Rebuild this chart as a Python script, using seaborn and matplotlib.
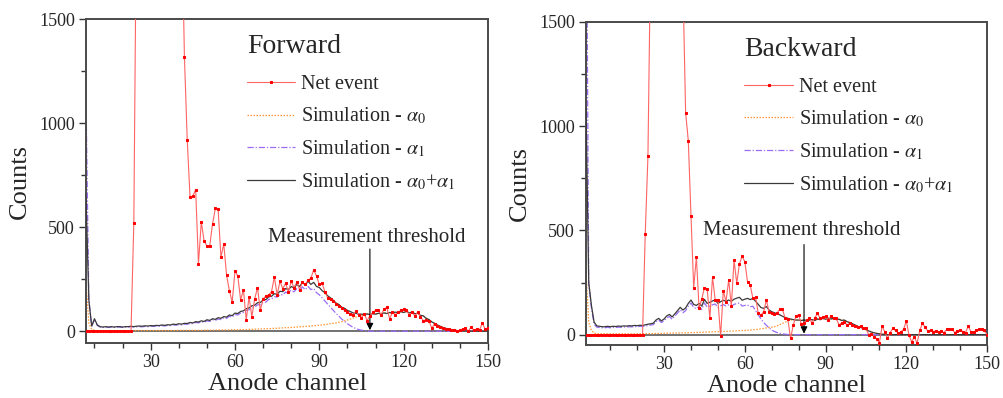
import numpy as np
import pandas as pd
import matplotlib
matplotlib.use("Agg")
import matplotlib.pyplot as plt
import seaborn as sns
from matplotlib.ticker import MultipleLocator, FixedLocator

# ---------------- data ----------------
ch_fwd = np.arange(7, 151)
net_fwd = ([0, 0, 0, 0, 0, 0, 0, 0, 0, 0]
           + [0, 0, 0, 0, 0, 0, 0, 520, 2150, 5000]
           + [8000, 10000, 12000, 13000, 12500, 11000, 9500, 8000, 6500, 5000]
           + [4000, 3200, 2600, 2200, 2040, 1320, 920, 645, 650, 680]
           + [325, 525, 435, 410, 410, 515, 590, 585, 355, 420]
           + [270, 195, 140, 290, 265, 150, 200, 55, 165, 70]
           + [155, 210, 100, 155, 170, 175, 190, 260, 175, 240]
           + [205, 230, 190, 240, 210, 235, 200, 235, 225, 245]
           + [255, 295, 265, 225, 230, 190, 160, 155, 145, 130]
           + [120, 110, 100, 90, 85, 80, 95, 80, 65, 85]
           + [50, 75, 90, 100, 100, 80, 105, 115, 60, 90]
           + [80, 90, 100, 105, 100, 80, 90, 75, 90, 70]
           + [50, 55, 50, 15, 35, 25, 20, 15, 10, 10]
           + [5, 5, 0, 5, 10, 15, 0, 20, 5, 10]
           + [5, 40, 10, 15])
a0_fwd = ([230, 40, 8, 4, 2, 2, 2, 2, 2, 2]
          + [2, 2, 2, 2, 2, 2, 2, 2, 3, 3]
          + [3, 3, 3, 3, 3, 3, 3, 3, 3, 3]
          + [3, 3, 3, 4, 4, 4, 4, 4, 4, 4]
          + [4, 4, 5, 5, 5, 5, 5, 6, 6, 6]
          + [6, 6, 7, 7, 7, 8, 8, 8, 9, 9]
          + [10, 10, 11, 11, 12, 12, 13, 14, 14, 15]
          + [16, 17, 17, 18, 19, 20, 21, 22, 23, 24]
          + [25, 26, 28, 29, 30, 32, 34, 36, 38, 40]
          + [43, 46, 50, 54, 58, 63, 68, 73, 77, 80]
          + [83, 80, 84, 82, 86, 84, 88, 85, 90, 86]
          + [92, 88, 94, 90, 95, 88, 92, 84, 86, 76]
          + [74, 62, 56, 45, 38, 30, 24, 18, 14, 10]
          + [7, 5, 3, 2, 1, 1, 0, 0, 0, 0]
          + [0, 0, 0, 0])
a1_fwd = ([1100, 150, 22, 56, 28, 20, 18, 20, 18, 20]
          + [18, 20, 20, 18, 20, 20, 22, 20, 21, 22]
          + [21, 23, 22, 24, 23, 25, 24, 27, 25, 28]
          + [27, 31, 29, 32, 30, 34, 33, 38, 36, 42]
          + [40, 46, 42, 50, 47, 55, 52, 59, 56, 64]
          + [62, 72, 68, 80, 78, 87, 90, 100, 103, 113]
          + [115, 127, 127, 139, 140, 153, 155, 166, 164, 177]
          + [174, 188, 183, 197, 189, 205, 194, 213, 199, 215]
          + [200, 205, 185, 175, 160, 145, 130, 115, 100, 85]
          + [72, 58, 47, 36, 27, 19, 13, 8, 5, 3]
          + [1, 0, 0, 0, 0, 0, 0, 0, 0, 0]
          + [0] * 34)
tot_fwd = ([640, 150, 25, 60, 30, 22, 20, 22, 20, 22]
           + [20, 22, 22, 20, 22, 22, 24, 22, 24, 25]
           + [24, 26, 25, 27, 26, 28, 27, 30, 28, 31]
           + [30, 34, 32, 36, 34, 38, 37, 42, 40, 46]
           + [44, 50, 47, 55, 52, 60, 57, 65, 62, 70]
           + [68, 78, 75, 87, 85, 95, 98, 108, 112, 122]
           + [125, 137, 138, 150, 152, 165, 168, 180, 178, 192]
           + [190, 205, 200, 215, 208, 225, 215, 235, 222, 240]
           + [225, 235, 215, 210, 195, 185, 170, 160, 148, 135]
           + [128, 115, 110, 100, 95, 88, 86, 82, 82, 80]
           + [83, 80, 84, 82, 86, 84, 88, 85, 90, 86]
           + [92, 88, 94, 90, 95, 88, 92, 84, 86, 76]
           + [74, 62, 56, 45, 38, 30, 24, 18, 14, 10]
           + [7, 5, 3, 2, 1, 1, 0, 0, 0, 0]
           + [0, 0, 0, 0])

ch_bwd = np.arange(1, 151)
net_bwd = ([0] * 10
           + [0] * 10
           + [0, 0, 485, 855, 1850, 4000, 7000, 9000, 10000, 9500]
           + [8500, 7000, 5500, 4200, 3000, 2200, 1690, 1065, 930, 570]
           + [225, 372, 127, 171, 225, 219, 78, 275, 166, 166]
           + [-7, 211, 158, 262, 138, 358, 246, 339, 377, 350]
           + [254, 238, 174, 179, 102, 94, 110, 166, 110, 105]
           + [97, 105, 121, 121, 78, 73, -18, 45, 90, 95]
           + [50, 55, 70, 78, 55, 80, 102, 78, 85, 88]
           + [70, 90, 80, 78, 46, 57, 60, 46, 55, 45]
           + [40, 35, 41, 30, 30, 0, 5, -10, -20, -40]
           + [41, 14, -18, 10, 30, 20, 6, 14, 25, 66]
           + [-3, -35, -10, -42, 20, 54, 35, 17, 20, 15]
           + [18, 12, 16, 10, 25, 25, 25, 10, 18, 22]
           + [15, 10, 40, 15, 12, 20, 25, 25, 20, 0])
tot_bwd = ([1090, 250, 140, 60, 42, 40, 38, 38, 40, 38]
           + [40, 39, 41, 40, 42, 41, 43, 42, 44, 43]
           + [45, 44, 47, 50, 52, 55, 70, 78, 66, 75]
           + [90, 97, 85, 100, 115, 131, 118, 128, 150, 166]
           + [145, 140, 150, 137, 169, 150, 155, 162, 166, 150]
           + [158, 165, 160, 166, 160, 170, 175, 179, 165, 170]
           + [174, 168, 174, 160, 145, 130, 126, 135, 118, 110]
           + [105, 100, 95, 88, 82, 78, 75, 72, 70, 70]
           + [68, 70, 68, 70, 72, 68, 75, 72, 78, 74]
           + [79, 75, 78, 72, 74, 68, 70, 62, 58, 52]
           + [46, 40, 35, 30, 24, 18, 13, 9, 6, 4]
           + [2, 1, 0, 0, 0, 0, 0, 0, 0, 0]
           + [0] * 30)
a1_bwd = ([2500, 240, 130, 50, 36, 34, 33, 33, 35, 33]
          + [35, 34, 36, 35, 37, 36, 38, 37, 39, 38]
          + [40, 39, 41, 44, 46, 48, 62, 70, 58, 66]
          + [80, 87, 74, 89, 103, 119, 105, 115, 136, 152]
          + [130, 125, 134, 121, 152, 133, 137, 143, 147, 130]
          + [138, 144, 138, 143, 136, 145, 149, 152, 137, 140]
          + [142, 134, 136, 115, 95, 75, 58, 45, 32, 22]
          + [15, 10, 6, 4, 2, 1, 0, 0, 0, 0]
          + [0] * 70)
a0_bwd = ([300, 60, 20, 8, 5, 4, 4, 4, 4, 4]
          + [4, 4, 4, 4, 4, 4, 4, 4, 4, 4]
          + [4, 4, 5, 5, 5, 5, 6, 6, 6, 6]
          + [7, 7, 7, 8, 8, 8, 9, 9, 9, 10]
          + [10, 10, 11, 11, 12, 12, 13, 13, 14, 14]
          + [15, 15, 16, 16, 17, 18, 18, 19, 20, 20]
          + [21, 22, 23, 24, 26, 28, 30, 32, 34, 36]
          + [38, 42, 48, 54, 60, 66, 70, 72, 70, 70]
          + [68, 70, 68, 70, 72, 68, 75, 72, 78, 74]
          + [79, 75, 78, 72, 74, 68, 70, 62, 58, 52]
          + [46, 40, 35, 30, 24, 18, 13, 9, 6, 4]
          + [2, 1, 0, 0, 0, 0, 0, 0, 0, 0]
          + [0] * 30)

panel_titles = ["Forward", "Backward"]
threshold_channels = [108, 82]
x_ticks = [30, 60, 90, 120, 150]
y_ticks = [0, 500, 1000, 1500]
labels = ["Net event", "Simulation - $\\alpha_0$", "Simulation - $\\alpha_1$",
          "Simulation - $\\alpha_0$+$\\alpha_1$"]

# ---------------- style ----------------
sns.set_style("ticks")
plt.rcParams["font.family"] = ["Liberation Serif", "DejaVu Serif"]
plt.rcParams["mathtext.fontset"] = "stix"

fig = plt.figure(figsize=(10.04, 3.98), dpi=100)
ax1 = fig.add_axes([0.0857, 0.138, 0.4003, 0.814])
ax2 = fig.add_axes([0.5837, 0.133, 0.3994, 0.812])


def panel(ax, ch, net, a0, a1, tot, xlim, ylim, title, thr, text_y, arrow_top, leg_x):
    ax.axhline(0, color="#666666", lw=1.3, zorder=1)
    sns.lineplot(x=ch, y=tot, ax=ax, color="#3a3a3a", lw=0.9, estimator=None,
                 sort=False, label=labels[3], zorder=3)
    sns.lineplot(x=ch, y=a1, ax=ax, color="#9b6cf5", lw=0.9, linestyle=(0, (5, 1.5, 1, 1.5)),
                 estimator=None, sort=False, label=labels[2], zorder=2)
    sns.lineplot(x=ch, y=a0, ax=ax, color="#ff9633", lw=0.9, linestyle=(0, (1.2, 1.2)),
                 estimator=None, sort=False, label=labels[1], zorder=2)
    sns.lineplot(x=ch, y=net, ax=ax, color="#ff6464", lw=0.8, marker="s", markersize=2.0,
                 markerfacecolor="#ff0000", markeredgecolor="#ff0000", estimator=None,
                 sort=False, label=labels[0], zorder=4)
    ax.set_xlim(*xlim)
    ax.set_ylim(*ylim)
    ax.xaxis.set_major_locator(FixedLocator(x_ticks))
    ax.xaxis.set_minor_locator(MultipleLocator(10))
    ax.yaxis.set_major_locator(FixedLocator(y_ticks))
    ax.yaxis.set_minor_locator(MultipleLocator(250))
    ax.tick_params(which="both", direction="out", length=5, width=1, color="#333333",
                   labelsize=13, pad=3)
    ax.tick_params(which="minor", length=3.5)
    for s in ax.spines.values():
        s.set_visible(True)
        s.set_color("#4a4a4a")
        s.set_linewidth(1.4)
    ax.set_xlabel("Anode channel", fontsize=19, labelpad=1)
    ax.set_ylabel("Counts", fontsize=19, labelpad=6)
    h, l = ax.get_legend_handles_labels()
    order = [3, 2, 1, 0]
    leg = ax.legend([h[i] for i in order], [l[i] for i in order], loc="upper left",
                    bbox_to_anchor=(leg_x, 0.965), frameon=False, fontsize=14.5,
                    title=title, title_fontsize=20, alignment="left",
                    handlelength=2.4, handletextpad=0.3, labelspacing=0.6,
                    borderaxespad=0, borderpad=0.2)
    leg._legend_box.sep = 11
    ax.annotate("", xy=(thr, 5), xytext=(thr, arrow_top),
                arrowprops=dict(arrowstyle="-|>", color="black", lw=0.8,
                                mutation_scale=10, shrinkA=0, shrinkB=0))
    ax.text(thr - 1, text_y, "Measurement threshold", ha="center", va="center", fontsize=15)


panel(ax1, ch_fwd, net_fwd, a0_fwd, a1_fwd, tot_fwd, (7, 150), (-57, 1500),
      panel_titles[0], threshold_channels[0], 452, 395, 0.39)
panel(ax2, ch_bwd, net_bwd, a0_bwd, a1_bwd, tot_bwd, (1, 150), (-50, 1500),
      panel_titles[1], threshold_channels[1], 500, 432, 0.385)

fig.savefig("out.png", dpi=100)
